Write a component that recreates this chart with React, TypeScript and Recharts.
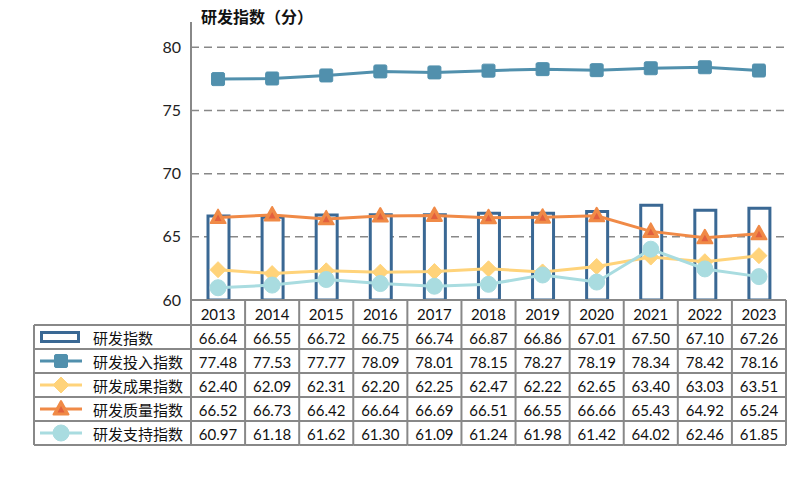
import React from 'react';
import { ComposedChart, Bar, Line, XAxis, YAxis, CartesianGrid } from 'recharts';

const years = ['2013', '2014', '2015', '2016', '2017', '2018', '2019', '2020', '2021', '2022', '2023'];
const rdIndex = [66.64, 66.55, 66.72, 66.75, 66.74, 66.87, 66.86, 67.01, 67.5, 67.1, 67.26];
const rdInput = [77.48, 77.53, 77.77, 78.09, 78.01, 78.15, 78.27, 78.19, 78.34, 78.42, 78.16];
const rdOutput = [62.4, 62.09, 62.31, 62.2, 62.25, 62.47, 62.22, 62.65, 63.4, 63.03, 63.51];
const rdQuality = [66.52, 66.73, 66.42, 66.64, 66.69, 66.51, 66.55, 66.66, 65.43, 64.92, 65.24];
const rdSupport = [60.97, 61.18, 61.62, 61.3, 61.09, 61.24, 61.98, 61.42, 64.02, 62.46, 61.85];
const yTicks = [60, 65, 70, 75, 80];
const gridValues = [65, 70, 75, 80];
const seriesNames = ['研发指数', '研发投入指数', '研发成果指数', '研发质量指数', '研发支持指数'];
const seriesValues = [rdIndex, rdInput, rdOutput, rdQuality, rdSupport];

const data = years.map((y, i) => ({
  year: y,
  rd: rdIndex[i],
  input: rdInput[i],
  output: rdOutput[i],
  quality: rdQuality[i],
  support: rdSupport[i],
}));

const W = 808;
const H = 494;
const PLOT_LEFT = 191;
const PLOT_RIGHT = 786;
const PLOT_TOP = 22;
const PLOT_BOTTOM = 300;
const HEADER_H = 25;
const ROW_H = 24;
const TABLE_H = HEADER_H + ROW_H * 5;
const TABLE_LEFT = 34;
const Y_AXIS_W = 40;
const COL_W = (PLOT_RIGHT - PLOT_LEFT) / years.length;

const GRID = '#888888';
const BAR_C = '#3A6894';
const INPUT_C = '#5190AD';
const OUTPUT_C = '#FFD37A';
const QUALITY_C = '#F08A47';
const QUALITY_IN = '#E2603E';
const SUPPORT_C = '#A9DCE0';
const FONT = "Lato, 'Noto Sans CJK SC', sans-serif";

const Square = (cx: number, cy: number, key?: any) => (
  <rect key={key} x={cx - 6.5} y={cy - 6.5} width={13} height={13} rx={1.5} fill={INPUT_C} stroke={INPUT_C} />
);
const Diamond = (cx: number, cy: number, key?: any) => (
  <polygon key={key} points={`${cx},${cy - 8} ${cx + 8},${cy} ${cx},${cy + 8} ${cx - 8},${cy}`} fill={OUTPUT_C} stroke={OUTPUT_C} strokeLinejoin="round" />
);
const Triangle = (cx: number, cy: number, key?: any) => (
  <g key={key}>
    <polygon points={`${cx},${cy - 8} ${cx + 7.5},${cy + 5.5} ${cx - 7.5},${cy + 5.5}`} fill={QUALITY_C} stroke={QUALITY_C} strokeWidth={2} strokeLinejoin="round" />
    <polygon points={`${cx},${cy - 3} ${cx + 3.5},${cy + 3.5} ${cx - 3.5},${cy + 3.5}`} fill={QUALITY_IN} />
  </g>
);
const Circle = (cx: number, cy: number, key?: any) => (
  <circle key={key} cx={cx} cy={cy} r={8} fill={SUPPORT_C} stroke={SUPPORT_C} />
);

const markers = [null, Square, Diamond, Triangle, Circle];
const lineColors = [BAR_C, INPUT_C, OUTPUT_C, QUALITY_C, SUPPORT_C];

const TableTick = (props: any) => {
  const { x, y, payload, index } = props;
  const half = COL_W / 2;
  const top = y;
  const els: any[] = [];
  els.push(
    <text key="yr" x={x} y={top + HEADER_H / 2 + 1} textAnchor="middle" dominantBaseline="central" fontSize={15} fill="#111">
      {payload.value}
    </text>
  );
  seriesValues.forEach((arr, i) => {
    els.push(
      <text key={'v' + i} x={x} y={top + HEADER_H + ROW_H * i + ROW_H / 2 + 1} textAnchor="middle" dominantBaseline="central" fontSize={15} fill="#111">
        {arr[index].toFixed(2)}
      </text>
    );
  });
  for (let r = 0; r <= 5; r++) {
    const yy = top + HEADER_H + ROW_H * r;
    els.push(<line key={'h' + r} x1={x - half} x2={x + half} y1={yy} y2={yy} stroke={GRID} strokeWidth={2} />);
  }
  els.push(<line key="vr" x1={x + half} x2={x + half} y1={top} y2={top + TABLE_H} stroke={GRID} strokeWidth={2} />);
  if (index === 0) {
    const lx = x - half;
    els.push(<line key="vl" x1={lx} x2={lx} y1={top} y2={top + TABLE_H} stroke={GRID} strokeWidth={2} />);
    els.push(<line key="vl2" x1={TABLE_LEFT} x2={TABLE_LEFT} y1={top + HEADER_H} y2={top + TABLE_H} stroke={GRID} strokeWidth={2} />);
    for (let r = 0; r <= 5; r++) {
      const yy = top + HEADER_H + ROW_H * r;
      els.push(<line key={'lh' + r} x1={TABLE_LEFT} x2={lx} y1={yy} y2={yy} stroke={GRID} strokeWidth={2} />);
    }
    seriesNames.forEach((name, i) => {
      const cy = top + HEADER_H + ROW_H * i + ROW_H / 2;
      if (i === 0) {
        els.push(<rect key={'li' + i} x={41.5} y={cy - 4.5} width={37} height={9} fill="#fff" stroke={BAR_C} strokeWidth={3} />);
      } else {
        els.push(<line key={'ll' + i} x1={40} x2={82} y1={cy} y2={cy} stroke={lineColors[i]} strokeWidth={3} />);
        const m = markers[i] as any;
        els.push(m(61, cy, 'lm' + i));
      }
      els.push(
        <text key={'lt' + i} x={93} y={cy + 1} dominantBaseline="central" fontSize={15} fill="#111">
          {name}
        </text>
      );
    });
  }
  return <g>{els}</g>;
};

const dotFn = (m: any) => (p: any) => m(p.cx, p.cy, 'd' + p.index);

export default function App() {
  return (
    <div style={{ position: 'absolute', left: 0, top: 0, width: W, height: H, background: '#fff', fontFamily: FONT }}>
      <ComposedChart
        width={W}
        height={H}
        data={data}
        margin={{ top: PLOT_TOP, right: W - PLOT_RIGHT, bottom: H - PLOT_BOTTOM - TABLE_H, left: PLOT_LEFT - Y_AXIS_W }}
      >
        <CartesianGrid vertical={false} horizontalValues={gridValues} stroke={GRID} strokeDasharray="8 5" strokeWidth={1.5} />
        <XAxis
          dataKey="year"
          interval={0}
          height={TABLE_H}
          tickLine={false}
          tickSize={0}
          tickMargin={0}
          axisLine={{ stroke: GRID, strokeWidth: 2 }}
          tick={(p: any) => <TableTick {...p} />}
        />
        <YAxis
          width={Y_AXIS_W}
          domain={[60, 82]}
          ticks={yTicks}
          allowDataOverflow
          tickLine={false}
          tickSize={0}
          tickMargin={10}
          axisLine={{ stroke: GRID, strokeWidth: 2 }}
          tick={{ fontSize: 16, fill: '#222' }}
        />
        <Bar dataKey="rd" barSize={21} fill="#fff" stroke={BAR_C} strokeWidth={3} isAnimationActive={false} />
        <Line dataKey="input" stroke={INPUT_C} strokeWidth={3} dot={dotFn(Square)} activeDot={false} isAnimationActive={false} />
        <Line dataKey="output" stroke={OUTPUT_C} strokeWidth={3} dot={dotFn(Diamond)} activeDot={false} isAnimationActive={false} />
        <Line dataKey="quality" stroke={QUALITY_C} strokeWidth={3} dot={dotFn(Triangle)} activeDot={false} isAnimationActive={false} />
        <Line dataKey="support" stroke={SUPPORT_C} strokeWidth={3} dot={dotFn(Circle)} activeDot={false} isAnimationActive={false} />
      </ComposedChart>
      <div style={{ position: 'absolute', left: 201, top: 6, fontSize: 16, fontWeight: 'bold', color: '#111', fontFamily: FONT, background: '#fff', lineHeight: '22px' }}>
        研发指数（分）
      </div>
    </div>
  );
}
